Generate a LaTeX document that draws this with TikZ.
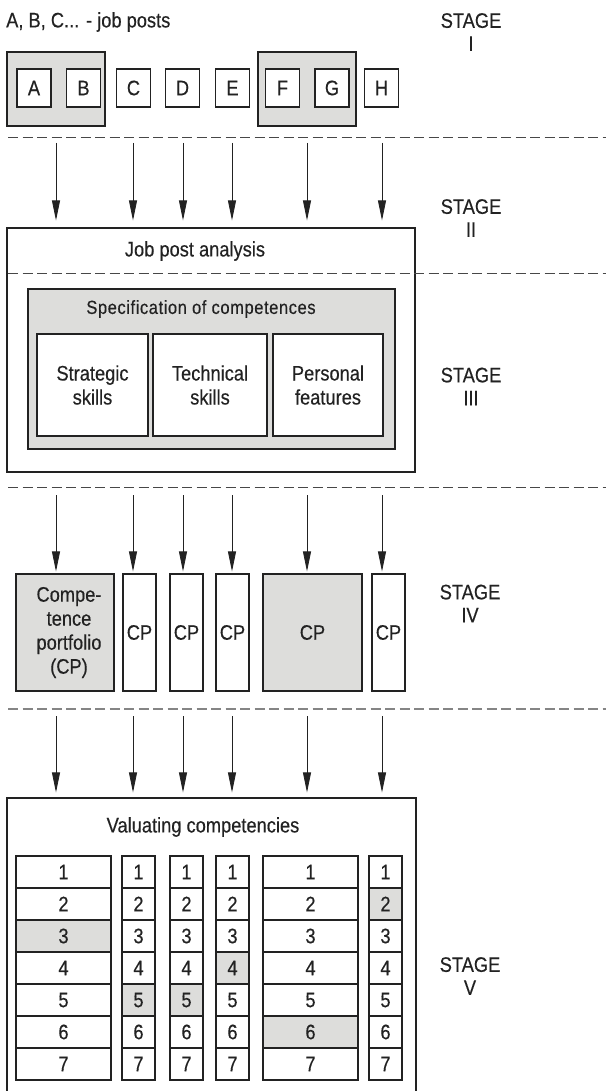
\documentclass[tikz,border=0pt]{standalone}
\usepackage{fontspec}
\setmainfont[FakeStretch=0.87,FakeBold=0.35]{Liberation Sans}
\usetikzlibrary{arrows.meta}
\definecolor{boxgray}{HTML}{DDDDDB}
\definecolor{linecol}{HTML}{222222}
\begin{document}
\begin{tikzpicture}[x=1pt,y=-1pt,
  txt/.style={font=\fontsize{21}{24}\selectfont, inner sep=0pt, align=center, text=linecol},
  box/.style={txt, draw=linecol, line width=1.1pt, fill=white},
  gbox/.style={box, fill=boxgray},
  arr/.style={-{Triangle[length=20pt,width=8pt]}, line width=0.8pt, draw=linecol},
  sepline/.style={dash pattern=on 10pt off 4.5pt, line width=0.9pt, draw=black!72},
  sepgray/.style={sepline, draw=black!48, line width=1.1pt},
  stagelbl/.style={txt, font=\fontsize{21}{23}\selectfont}]
\useasboundingbox (0,0) rectangle (606,1091);
\clip (0,0) rectangle (606,1091);
\fill[white] (0,0) rectangle (606,1091);

% ---------- Stage I ----------
\node[txt, anchor=west] (title) at (6,22) {A, B, C... - job posts};
\node[stagelbl] (st1) at (471,32) {STAGE\\I};
\node[gbox, minimum width=98pt, minimum height=74pt] (gab) at (56,89) {};
\node[gbox, minimum width=98pt, minimum height=74pt] (gfg) at (307,89) {};
\foreach \n/\x in {A/34, B/83.5, C/133.5, D/182.5, E/232.5, F/282.5, G/332, H/381.5}{
  \node[box, minimum width=34pt, minimum height=38pt] (job\n) at (\x,88) {\n};
}

% ---------- separators ----------
\coordinate (sepL1) at (8,137);  \coordinate (sepR1) at (606,137);
\coordinate (sepL2) at (8,273);  \coordinate (sepR2) at (606,273);
\coordinate (sepL3) at (8,487);  \coordinate (sepR3) at (606,487);
\coordinate (sepL4) at (8,709);  \coordinate (sepR4) at (606,709);

% ---------- Stage II / III ----------
\node[stagelbl] (st2) at (471,218) {STAGE\\II};
\node[box, minimum width=408pt, minimum height=244pt] (jpa) at (211,350) {};
\node[txt] (jpatxt) at (195,251) {Job post analysis};
\draw[sepline] (sepL1) -- (sepR1);
\draw[sepline] (sepL2) -- (sepR2);
\draw[sepline] (sepL3) -- (sepR3);
\draw[sepgray] (sepL4) -- (sepR4);
\node[gbox, minimum width=367pt, minimum height=160pt] (spec) at (211.5,369) {};
\node[txt, font=\fontsize{19}{22}\selectfont\addfontfeature{LetterSpace=3}] (spectxt) at (201,309) {Specification of competences};
\node[box, minimum width=111pt, minimum height=102pt] (strat) at (92.5,385) {Strategic\\skills};
\node[box, minimum width=114pt, minimum height=102pt] (tech) at (210,385) {Technical\\skills};
\node[box, minimum width=110pt, minimum height=102pt] (pers) at (328,385) {Personal\\features};
\node[stagelbl] (st3) at (471,386.5) {STAGE\\III};

% ---------- Stage IV ----------
\node[stagelbl] (st4) at (470,603.5) {STAGE\\IV};
\node[gbox, minimum width=98pt, minimum height=117pt] (cp0) at (65,632.5) {\hspace*{8pt}Compe-\\\hspace*{8pt}tence\\\hspace*{8pt}portfolio\\\hspace*{8pt}(CP)};
\node[box, minimum width=33pt, minimum height=117pt] (cp1) at (139.5,632.5) {CP};
\node[box, minimum width=33pt, minimum height=117pt] (cp2) at (186.5,632.5) {CP};
\node[box, minimum width=33pt, minimum height=117pt] (cp3) at (232.5,632.5) {CP};
\node[gbox, minimum width=99pt, minimum height=117pt] (cp4) at (312.5,632.5) {CP};
\node[box, minimum width=33pt, minimum height=117pt] (cp5) at (388.5,632.5) {CP};

% ---------- Stage V ----------
\node[stagelbl] (st5) at (470,976) {STAGE\\V};
\node[box, minimum width=409pt, minimum height=310pt] (val) at (211.5,953) {};
\node[txt] (valtxt) at (203,827) {Valuating competencies};
\foreach \c/\xa/\xb/\g in {1/16/111/3, 2/122/155/5, 3/170/203/5, 4/216/249/4, 5/263/358/6, 6/369/402/2}{
  \foreach \r in {1,...,7}{
    \pgfmathsetmacro\cy{856+32*\r-16}
    \pgfmathsetmacro\cx{(\xa+\xb)/2}
    \pgfmathsetmacro\w{\xb-\xa}
    \ifnum\r=\g\relax \def\fc{boxgray}\else\def\fc{white}\fi
    \node[box, fill=\fc, line width=1.2pt, minimum width=\w pt, minimum height=32pt] (cell\c-\r) at (\cx,\cy) {\r};
  }
}

% ---------- arrows ----------
\foreach \i/\x in {1/56, 2/133, 3/183, 4/232, 5/307, 6/382}{
  \coordinate (aS\i) at (\x,143);
  \coordinate (bS\i) at (\x,495);
  \coordinate (cS\i) at (\x,716);
  \draw[arr, shorten >=7pt] (aS\i) -- (aS\i |- jpa.north);
  \draw[arr, shorten >=2pt] (bS\i) -- (bS\i |- cp1.north);
  \draw[arr, shorten >=5pt] (cS\i) -- (cS\i |- val.north);
}
\end{tikzpicture}
\end{document}
